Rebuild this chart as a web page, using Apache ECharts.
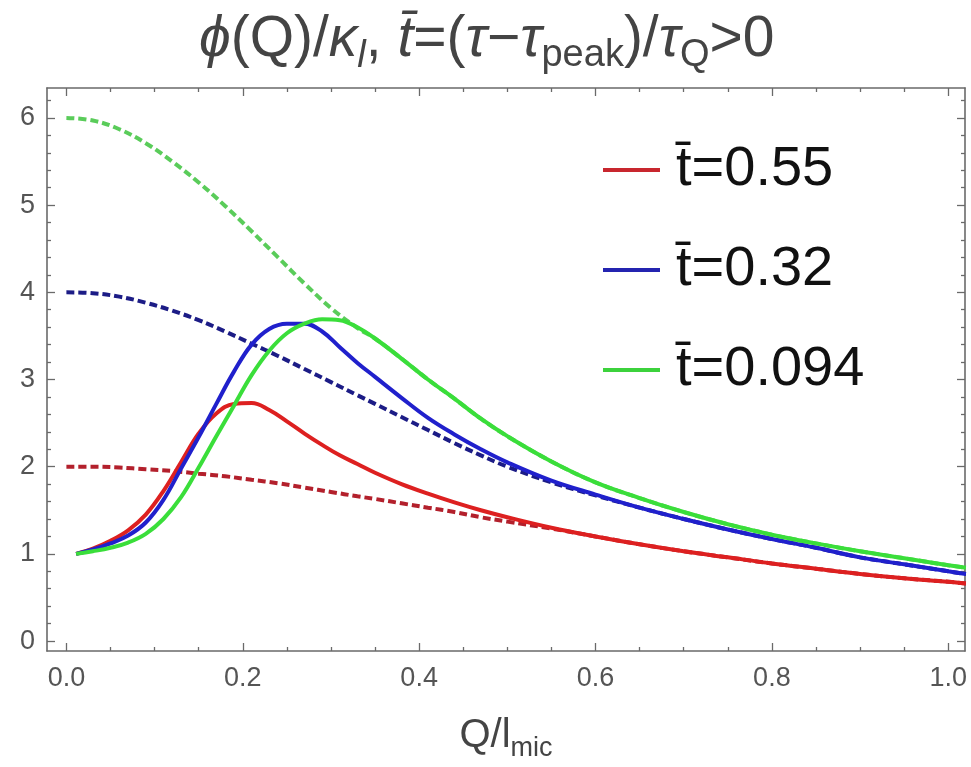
<!DOCTYPE html>
<html>
<head>
<meta charset="utf-8">
<script src="https://cdn.jsdelivr.net/npm/echarts@6/dist/echarts.min.js"></script>
<style>
  html, body { margin: 0; padding: 0; background: #ffffff; }
  #chart { width: 971px; height: 767px; }
</style>
</head>
<body>
<div id="chart"></div>
<script>
// Q / l_mic sample positions
const qSolid = [0.011, 0.03, 0.05, 0.07, 0.09, 0.11, 0.13, 0.15, 0.17, 0.19, 0.21, 0.23, 0.25, 0.27, 0.29, 0.31, 0.33, 0.35, 0.38, 0.41, 0.44, 0.47, 0.5, 0.55, 0.6, 0.65, 0.7, 0.75, 0.8, 0.85, 0.9, 0.95, 1.0, 1.02];
const qDashed = [0, 0.03, 0.06, 0.09, 0.12, 0.15, 0.18, 0.21, 0.24, 0.27, 0.30, 0.33, 0.35, 0.38, 0.41, 0.44, 0.47, 0.5, 0.55, 0.6, 0.65, 0.7, 0.75, 0.8, 0.85, 0.9, 0.95, 1.0, 1.02];

// phi(Q)/kappa_l, solid curves
const phiT055 = [1.00, 1.06, 1.15, 1.27, 1.45, 1.72, 2.05, 2.38, 2.61, 2.72, 2.73, 2.65, 2.52, 2.38, 2.25, 2.13, 2.03, 1.93, 1.80, 1.69, 1.59, 1.50, 1.42, 1.30, 1.20, 1.11, 1.03, 0.96, 0.89, 0.83, 0.77, 0.72, 0.68, 0.66];
const phiT032 = [1.00, 1.05, 1.12, 1.21, 1.36, 1.62, 1.98, 2.34, 2.72, 3.09, 3.40, 3.58, 3.64, 3.64, 3.55, 3.37, 3.19, 3.03, 2.79, 2.56, 2.37, 2.20, 2.05, 1.84, 1.68, 1.53, 1.40, 1.28, 1.17, 1.07, 0.96, 0.88, 0.80, 0.77];
const phiT0094 = [1.00, 1.03, 1.07, 1.13, 1.23, 1.40, 1.65, 1.99, 2.35, 2.70, 3.05, 3.33, 3.53, 3.64, 3.69, 3.68, 3.60, 3.47, 3.24, 3.00, 2.78, 2.55, 2.35, 2.06, 1.82, 1.64, 1.48, 1.34, 1.22, 1.12, 1.03, 0.95, 0.87, 0.84];

// equilibrium curves, dashed
const eqT055 = [2.00, 2.00, 1.99, 1.97, 1.95, 1.92, 1.89, 1.85, 1.81, 1.76, 1.71, 1.66, 1.63, 1.58, 1.53, 1.48, 1.42, 1.37, 1.29, 1.20, 1.11, 1.03, 0.96, 0.89, 0.83, 0.77, 0.72, 0.68, 0.66];
const eqT032 = [4.00, 3.99, 3.95, 3.88, 3.79, 3.68, 3.55, 3.41, 3.27, 3.12, 2.97, 2.82, 2.72, 2.57, 2.42, 2.27, 2.13, 2.00, 1.82, 1.67, 1.53, 1.40, 1.28, 1.17, 1.07, 0.96, 0.88, 0.80, 0.77];
const eqT0094 = [6.00, 5.97, 5.87, 5.71, 5.50, 5.26, 4.99, 4.70, 4.40, 4.10, 3.82, 3.59, 3.47, 3.24, 3.00, 2.78, 2.55, 2.35, 2.06, 1.82, 1.64, 1.48, 1.34, 1.22, 1.12, 1.03, 0.95, 0.87, 0.84];

const legendNames = ['t\u0304=0.55', 't\u0304=0.32', 't\u0304=0.094'];

// tick values
const xMajor = [0, 0.2, 0.4, 0.6, 0.8, 1.0];
const xMinor = [0.05, 0.1, 0.15, 0.25, 0.3, 0.35, 0.45, 0.5, 0.55, 0.65, 0.7, 0.75, 0.85, 0.9, 0.95];
const yMajor = [0, 1, 2, 3, 4, 5, 6];
const yMinor = [0.2, 0.4, 0.6, 0.8, 1.2, 1.4, 1.6, 1.8, 2.2, 2.4, 2.6, 2.8, 3.2, 3.4, 3.6, 3.8, 4.2, 4.4, 4.6, 4.8, 5.2, 5.4, 5.6, 5.8, 6.2];

const X_MIN = -0.022, X_MAX = 1.019;
const Y_MIN = -0.114, Y_MAX = 6.343;

const frameColor = '#6a6a6a';
const font = 'Liberation Sans';

function pairs(xs, ys) { return xs.map((x, i) => [x, ys[i]]); }

function frameAxis(position, min, max, ticks, tickLen, showLine, labels) {
  return {
    type: 'value', position: position, min: min, max: max,
    splitLine: { show: false },
    axisLine: { show: showLine, onZero: false, lineStyle: { color: frameColor, width: 1.6 } },
    axisTick: { show: true, inside: true, length: tickLen, customValues: ticks, lineStyle: { color: frameColor, width: 1.3 } },
    axisLabel: labels ? labels : { show: false }
  };
}

const xLabels = { show: true, customValues: xMajor, margin: 14, color: '#555', fontFamily: font, fontSize: 27,
  formatter: v => v.toFixed(1) };
const yLabels = { show: true, customValues: yMajor, margin: 12, color: '#555', fontFamily: font, fontSize: 27,
  formatter: v => String(Math.round(v)) };

const xBottom = frameAxis('bottom', X_MIN, X_MAX, xMajor, 8, true, xLabels);
xBottom.name = '{n|Q/l}{s|mic}';
xBottom.nameLocation = 'middle';
xBottom.nameGap = 58;
xBottom.nameTextStyle = {
  color: '#444', fontFamily: font,
  rich: {
    n: { fontSize: 40, fontFamily: font, color: '#444' },
    s: { fontSize: 27, fontFamily: font, color: '#444', padding: [26, 0, 0, 0] }
  }
};

const option = {
  animation: false,
  backgroundColor: '#ffffff',
  title: {
    text: '{i|\u03d5}(Q)/{i|\u03ba}{si|l}, {i|t\u0304}=({i|\u03c4}\u2212{i|\u03c4}{s|peak})/{i|\u03c4}{s|Q}>0',
    left: 194, top: 0,
    textStyle: {
      fontFamily: font, fontSize: 57, fontWeight: 'normal', color: '#444',
      rich: {
        i: { fontFamily: font, fontSize: 57, fontStyle: 'italic', color: '#444' },
        s: { fontFamily: font, fontSize: 38, color: '#444', padding: [32, 0, 0, 0] },
        si: { fontFamily: font, fontSize: 38, fontStyle: 'italic', color: '#444', padding: [32, 0, 0, 0] }
      }
    }
  },
  grid: { left: 47, right: 6, top: 88, bottom: 114, containLabel: false },
  legend: {
    orient: 'vertical', left: 598, top: 135,
    itemWidth: 57, itemHeight: 4, itemGap: 40, icon: 'rect',
    data: legendNames,
    textStyle: { fontFamily: font, fontSize: 56, color: '#111', lineHeight: 60, padding: [0, 0, 0, 11] }
  },
  xAxis: [
    xBottom,
    frameAxis('top', X_MIN, X_MAX, xMajor, 8, true, null),
    frameAxis('bottom', X_MIN, X_MAX, xMinor, 4, false, null),
    frameAxis('top', X_MIN, X_MAX, xMinor, 4, false, null)
  ],
  yAxis: [
    frameAxis('left', Y_MIN, Y_MAX, yMajor, 8, true, yLabels),
    frameAxis('right', Y_MIN, Y_MAX, yMajor, 8, true, null),
    frameAxis('left', Y_MIN, Y_MAX, yMinor, 4, false, null),
    frameAxis('right', Y_MIN, Y_MAX, yMinor, 4, false, null)
  ],
  series: [
    { name: 'eq 0.55', type: 'line', data: pairs(qDashed, eqT055), showSymbol: false, symbol: 'none', smooth: 0.4,
      lineStyle: { color: '#b3202c', width: 4, type: [8, 4] }, itemStyle: { color: '#b3202c' } },
    { name: 'eq 0.32', type: 'line', data: pairs(qDashed, eqT032), showSymbol: false, symbol: 'none', smooth: 0.4,
      lineStyle: { color: '#1c1c86', width: 4, type: [8, 4] }, itemStyle: { color: '#1c1c86' } },
    { name: 'eq 0.094', type: 'line', data: pairs(qDashed, eqT0094), showSymbol: false, symbol: 'none', smooth: 0.4,
      lineStyle: { color: '#5acc5a', width: 4, type: [8, 4] }, itemStyle: { color: '#5acc5a' } },
    { name: legendNames[0], type: 'line', data: pairs(qSolid, phiT055), showSymbol: false, symbol: 'none', smooth: 0.4,
      lineStyle: { color: '#dd2020', width: 4 }, itemStyle: { color: '#c8262e' } },
    { name: legendNames[1], type: 'line', data: pairs(qSolid, phiT032), showSymbol: false, symbol: 'none', smooth: 0.4,
      lineStyle: { color: '#2020cc', width: 4 }, itemStyle: { color: '#2424b0' } },
    { name: legendNames[2], type: 'line', data: pairs(qSolid, phiT0094), showSymbol: false, symbol: 'none', smooth: 0.4,
      lineStyle: { color: '#3ade3a', width: 4 }, itemStyle: { color: '#3cd23c' } }
  ]
};

const chart = echarts.init(document.getElementById('chart'), null, { renderer: 'canvas' });
chart.setOption(option);
</script>
</body>
</html>
